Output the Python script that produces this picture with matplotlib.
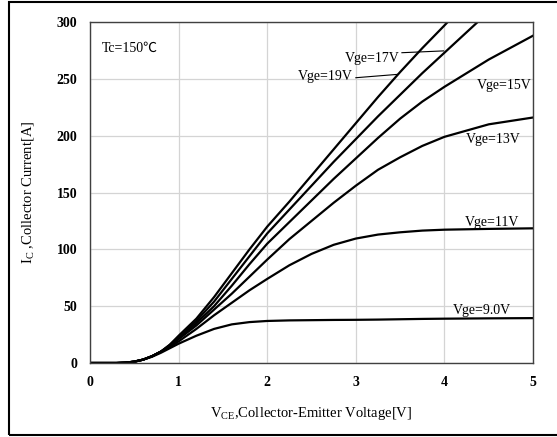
import matplotlib
matplotlib.use('Agg')
import matplotlib.pyplot as plt
from matplotlib.patches import Rectangle

# Output characteristics (Tc=150C)
vce = [0, 0.3, 0.4, 0.5, 0.6, 0.7, 0.8, 0.9, 1.0, 1.2, 1.4, 1.6, 1.8,
       2.0, 2.25, 2.5, 2.75, 3.0, 3.25, 3.5, 3.75, 4.0, 4.5, 5.0]

ic_9v = [0, 0, 0.3, 1.2, 3, 5.5, 9, 13, 17, 24, 30, 34, 36,
         37, 37.5, 37.7, 37.9, 38, 38.2, 38.5, 38.8, 39, 39.3, 39.5]
ic_11v = [0, 0, 0.3, 1.2, 3, 6, 10, 14, 19, 30, 42, 53, 64,
          74, 86, 96, 104, 109.5, 113, 115, 116.5, 117.3, 118, 118.5]
ic_13v = [0, 0, 0.3, 1.2, 3, 6, 10, 15, 21, 33, 47, 61, 76,
          91, 109, 125, 141, 156, 170, 181, 191, 199, 210, 216]
ic_15v = [0, 0, 0.3, 1.2, 3, 6, 10, 15, 22, 35, 50, 68, 87,
          105, 124, 143, 162, 180, 198, 215, 230, 243, 267, 288]
ic_17v = [0, 0, 0.3, 1.2, 3, 6, 10, 16, 23, 37, 54, 74, 94,
          114, 135, 156, 177, 197, 217, 236, 255, 273, 309, 345]
ic_19v = [0, 0, 0.3, 1.2, 3, 6, 10, 16, 24, 39, 58, 79, 100,
          120, 142, 165, 188, 211, 234, 256, 277, 297, 338, 378]

curves = [ic_9v, ic_11v, ic_13v, ic_15v, ic_17v, ic_19v]

serif = 'Liberation Serif'

fig = plt.figure(figsize=(5.57, 4.37), dpi=100)
ax = fig.add_axes([0.1616, 0.1693, 0.7954, 0.7803])

for ic in curves:
    ax.plot(vce, ic, color='black', lw=1.6, solid_joinstyle='round')

ax.set_xlim(0, 5)
ax.set_ylim(0, 300)
ax.set_xticks([0, 1, 2, 3, 4, 5])
ax.set_yticks([0, 50, 100, 150, 200, 250, 300])
ax.grid(True, color='#d4d4d4', lw=0.9)
ax.set_axisbelow(True)
ax.tick_params(length=0, pad=9)
for lbl in ax.get_xticklabels() + ax.get_yticklabels():
    lbl.set_fontfamily(serif)
    lbl.set_fontweight('bold')
    lbl.set_fontsize(10)
for sp in ax.spines.values():
    sp.set_color('#404040')
    sp.set_linewidth(1.0)

ax.set_xlabel(r'V$_{\mathregular{CE}}$,Collector-Emitter Voltage[V]',
              fontfamily=serif, fontsize=10.5, labelpad=12)
ax.set_ylabel(r'I$_{\mathregular{C}}$ ,Collector Current[A]',
              fontfamily=serif, fontsize=10.5, labelpad=14)

# curve labels
lab = dict(fontfamily=serif, fontsize=10, ha='center', va='center')
ax.text(0.13, 277, 'Tc=150\u2103', fontfamily=[serif, 'Noto Sans CJK SC'],
        fontsize=10, ha='left', va='center')
ax.text(3.18, 268, 'Vge=17V', **lab)
ax.plot([3.52, 3.99], [273, 274.6], color='black', lw=0.8)
ax.text(2.65, 252.5, 'Vge=19V', **lab)
ax.plot([3.0, 3.48], [251, 254], color='black', lw=0.8)
ax.text(4.68, 244, 'Vge=15V', **lab)
ax.text(4.55, 197, 'Vge=13V', **lab)
ax.text(4.54, 124, 'Vge=11V', **lab)
ax.text(4.42, 46.5, 'Vge=9.0V', **lab)

# outer frame around the whole chart
fig.patches.append(Rectangle((9, 2), 560, 433, transform=None,
                             fill=False, edgecolor='black', lw=1.5))

fig.savefig('out.png', dpi=100)
